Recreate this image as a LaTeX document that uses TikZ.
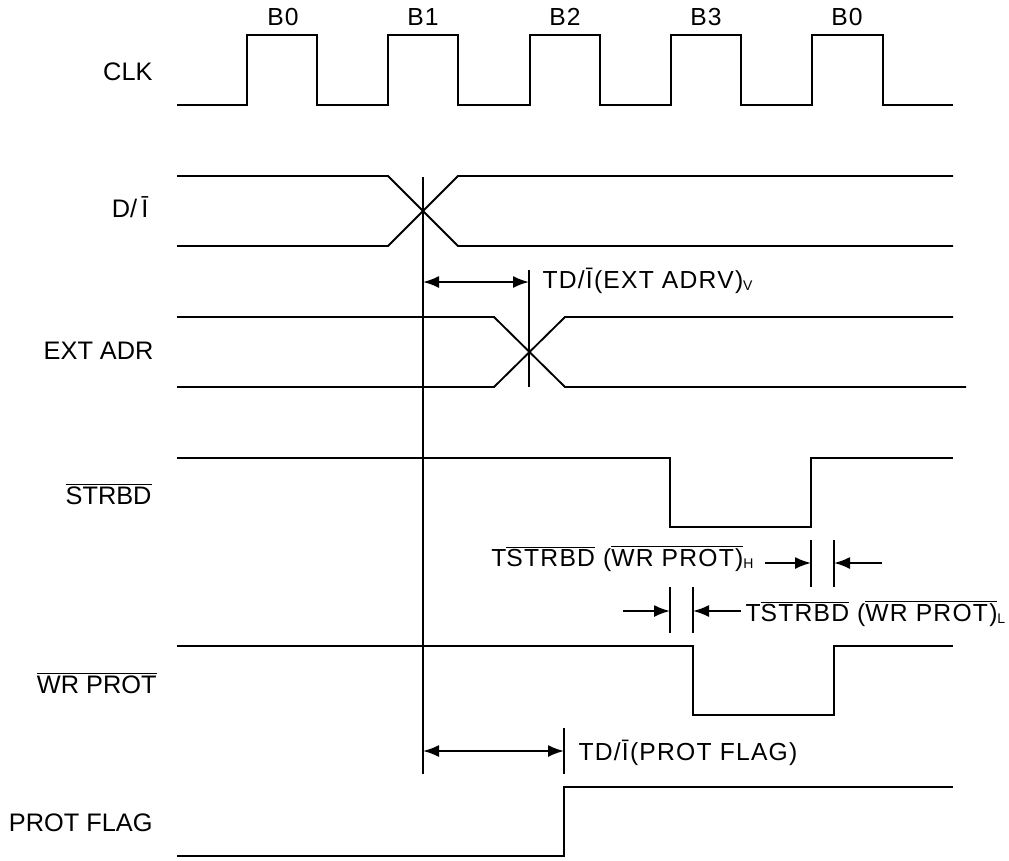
\documentclass[tikz,border=0pt]{standalone}
\usepackage{fontspec}
\setmainfont{Liberation Sans}
\newfontfamily\notefont[LetterSpace=5]{Liberation Sans}
\usetikzlibrary{arrows.meta}

\newcommand{\ovl}[1]{\ensuremath{\overline{\mbox{#1}}}}
\newcommand{\lsub}[1]{\raisebox{-1.5pt}{\fontsize{10.5}{10.5}\selectfont #1}}

\tikzset{every picture/.style={line width=0.75pt}}
\tikzset{
  sig/.style={line width=1.4pt, line join=miter},
  markline/.style={line width=0.9pt},
  dimarrow/.style={line width=1.4pt, -{Latex[length=12pt,width=9pt]}},
  dimboth/.style={line width=1.4pt, {Latex[length=12pt,width=9pt]}-{Latex[length=12pt,width=9pt]}},
  lbl/.style={anchor=base east, inner sep=0pt, font=\fontsize{19}{21}\selectfont},
  note/.style={inner sep=0pt, font=\notefont\fontsize{18.5}{20}\selectfont},
}

\begin{document}
\begin{tikzpicture}[x=0.75pt,y=0.75pt,yscale=-1,xscale=1]
\useasboundingbox (0,0) rectangle (1009,860);

% Text Node: signal names
\node (clk) [lbl] at (153,80) {CLK};
\node (di) [lbl] at (149,217) {D/\,\={I}};
\node (ext) [lbl] at (154,359) {EXT ADR};
\node (strbd) [lbl] at (152,504) {\ovl{STRBD}};
\node (wrprot) [lbl] at (157,693) {\ovl{WR PROT}};
\node (flag) [lbl] at (153,831) {PROT FLAG};

% Text Node: byte labels
\node (b0) [note, anchor=base] at (283,26) {B0};
\node (b1) [note, anchor=base] at (423,26) {B1};
\node (b2) [note, anchor=base] at (565,26) {B2};
\node (b3) [note, anchor=base] at (706,26) {B3};
\node (b0b) [note, anchor=base] at (847,26) {B0};

%Shape: CLK
\draw [sig] (177,105) -- (247,105) -- (247,35) -- (317,35) -- (317,105) -- (388,105) -- (388,35) -- (458,35) -- (458,105) -- (530,105) -- (530,35) -- (600,35) -- (600,105) -- (671,105) -- (671,35) -- (741,35) -- (741,105) -- (812,105) -- (812,35) -- (883,35) -- (883,105) -- (953,105);

%Shape: D/I
\draw [sig] (177,176) -- (388,176) -- (458,246) -- (953,246);
\draw [sig] (177,246) -- (388,246) -- (458,176) -- (953,176);

%Shape: EXT ADR
\draw [sig] (177,317) -- (494,317) -- (565,387) -- (966,387);
\draw [sig] (177,387) -- (494,387) -- (565,317) -- (953,317);

%Shape: STRBD
\draw [sig] (177,458) -- (670,458) -- (670,527) -- (811,527) -- (811,458) -- (953,458);

%Shape: WR PROT
\draw [sig] (177,646) -- (693,646) -- (693,715) -- (834,715) -- (834,646) -- (953,646);

%Shape: PROT FLAG
\draw [sig] (177,856) -- (564,856) -- (564,787) -- (953,787);

% marker lines
\coordinate (mtop) at (423,177);
\coordinate (mbot) at (423,774);
\draw [markline] (mtop) -- (mbot);
\draw [markline] (529,270) -- (529,387);
\draw [markline] (811,540) -- (811,587);
\draw [markline] (834,540) -- (834,587);
\draw [markline] (670,587) -- (670,633);
\draw [markline] (693,587) -- (693,633);
\draw [markline] (564,728) -- (564,774);

% dimension arrows
\coordinate (va) at (423,282);
\coordinate (vb) at (529,282);
\draw [dimboth] (va) -- (vb);
\coordinate (pa) at (423,751);
\coordinate (pb) at (564,751);
\draw [dimboth] (pa) -- (pb);
\coordinate (hl) at (765,563);
\coordinate (hlt) at (811,563);
\coordinate (hr) at (882,563);
\coordinate (hrt) at (834,563);
\draw [dimarrow] (hl) -- (hlt);
\draw [dimarrow] (hr) -- (hrt);
\coordinate (ll) at (623,611);
\coordinate (llt) at (670,611);
\coordinate (lr) at (741,611);
\coordinate (lrt) at (693,611);
\draw [dimarrow] (ll) -- (llt);
\draw [dimarrow] (lr) -- (lrt);

% Text Node: timing labels
\node (tv) [note, anchor=base west] at (542,288) {TD/\={I}(EXT ADRV)\lsub{V}};
\node (th) [note, anchor=base east] at (754,566) {T\ovl{STRBD} (\ovl{WR PROT)}\lsub{H}};
\node (tl) [note, anchor=base west] at (745,621) {T\ovl{STRBD} (\ovl{WR PROT)}\lsub{L}};
\node (tp) [note, anchor=base west] at (578,760) {TD/\={I}(PROT FLAG)};

\end{tikzpicture}
\end{document}
